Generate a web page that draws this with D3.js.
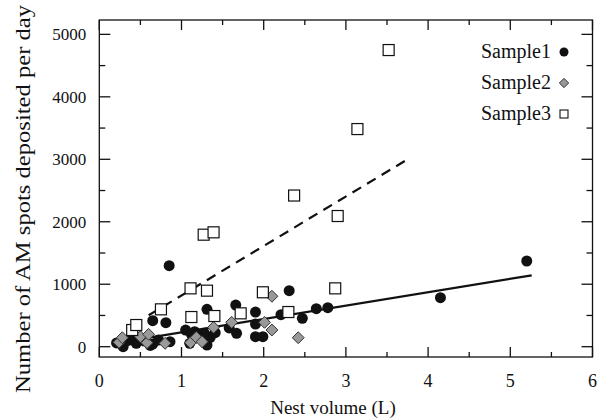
<!DOCTYPE html>
<html>
<head>
<meta charset="utf-8">
<script src="https://cdn.jsdelivr.net/npm/d3@7"></script>
<style>
  body { margin: 0; background: #fff; }
  text { font-family: "Liberation Serif", "Times New Roman", serif; fill: #111; }
</style>
</head>
<body>
<div class="chart"></div>
<script>
    /* data */
    const sample1 = [[0.21,60],[0.29,0],[0.35,100],[0.41,107],[0.45,54],[0.55,90],[0.62,20],[0.65,43],
        [0.65,416],[0.72,107],[0.81,385],[0.85,1297],[0.86,80],[1.05,267],[1.10,54],[1.12,200],
        [1.16,240],[1.22,180],[1.28,214],[1.31,27],[1.31,598],[1.35,150],[1.41,224],[1.58,300],
        [1.66,667],[1.67,214],[1.90,555],[1.90,363],[1.90,160],[1.99,160],[2.21,513],[2.31,896],
        [2.47,454],[2.64,608],[2.78,624],[4.15,784],[5.20,1372]];
    const sample2 = [[0.24,70],[0.28,144],[0.50,160],[0.58,64],[0.60,198],[0.80,54],[1.11,64],
        [1.18,150],[1.25,80],[1.39,310],[1.61,390],[2.01,390],[2.10,807],[2.10,267],[2.42,144]];
    const sample3 = [[0.40,267],[0.45,347],[0.75,598],[1.11,934],[1.12,475],[1.27,1793],[1.31,897],
        [1.39,1831],[1.40,491],[1.72,534],[1.99,871],[2.30,555],[2.37,2420],[2.87,934],[2.90,2092],
        [3.14,3484],[3.52,4749]];
    const fit1 = [[0.2,58],[5.26,1143]];   // solid
    const fit3 = [[0.6,503],[3.73,2983]];  // dashed
    const xTicks = [0,1,2,3,4,5,6];
    const yTicks = [0,1000,2000,3000,4000,5000];
    const legendNames = ["Sample1","Sample2","Sample3"];

    const width = 599, height = 420;
    const m = {left: 99.3, right: 592.5, top: 20, bottom: 357};

    const svg = d3.select(".chart").append("svg")
    .attr("width", width)
    .attr("height", height);

    const x = d3.scaleLinear().domain([0,6]).range([m.left,m.right]);
    const y = d3.scaleLinear().domain([-165,5230]).range([m.bottom,m.top]);

    /* frame + inward ticks */
    svg.append("rect")
    .attr("x",m.left).attr("y",m.top)
    .attr("width",m.right-m.left).attr("height",m.bottom-m.top)
    .attr("fill","none").attr("stroke","#111").attr("stroke-width",1.3);

    const xMinor = d3.range(0,6.01,0.5), yMinor = d3.range(0,5001,500);
    const tk = svg.append("g").attr("stroke","#111").attr("stroke-width",1.3);
    xMinor.forEach(v=>{
        const len = (v%1===0) ? 10 : 5;
        tk.append("line").attr("x1",x(v)).attr("x2",x(v)).attr("y1",m.bottom).attr("y2",m.bottom-len);
        tk.append("line").attr("x1",x(v)).attr("x2",x(v)).attr("y1",m.top).attr("y2",m.top+len);
    });
    yMinor.forEach(v=>{
        const len = (v%1000===0) ? 11 : 6;
        tk.append("line").attr("y1",y(v)).attr("y2",y(v)).attr("x1",m.left).attr("x2",m.left+len);
        tk.append("line").attr("y1",y(v)).attr("y2",y(v)).attr("x1",m.right).attr("x2",m.right-len);
    });

    svg.selectAll(".xl").data(xTicks).enter().append("text")
    .attr("x",d=>x(d)).attr("y",m.bottom+30)
    .attr("text-anchor","middle").attr("font-size",18)
    .text(d=>d);

    svg.selectAll(".yl").data(yTicks).enter().append("text")
    .attr("x",m.left-13).attr("y",d=>y(d)+6)
    .attr("text-anchor","end").attr("font-size",17)
    .text(d=>d);

    svg.append("text")
    .attr("x",333).attr("y",414)
    .attr("text-anchor","middle").attr("font-size",19)
    .text("Nest volume (L)");

    svg.append("text")
    .attr("transform","translate(30,199) rotate(-90)")
    .attr("text-anchor","middle").attr("font-size",21)
    .attr("textLength",388).attr("lengthAdjust","spacingAndGlyphs")
    .text("Number of AM spots deposited per day");

    /* fit lines */
    const line = d3.line().x(d=>x(d[0])).y(d=>y(d[1]));
    svg.append("path").datum(fit1).attr("d",line)
    .attr("fill","none").attr("stroke","#111").attr("stroke-width",2.2);
    svg.append("path").datum(fit3).attr("d",line)
    .attr("fill","none").attr("stroke","#111").attr("stroke-width",2.2)
    .attr("stroke-dasharray","10,7");

    /* points */
    svg.append("g").selectAll("circle").data(sample1).enter().append("circle")
    .attr("cx",d=>x(d[0])).attr("cy",d=>y(d[1])).attr("r",5.5)
    .attr("fill","#111");

    const diamond = d3.symbol().type(d3.symbolDiamond2).size(90);
    svg.append("g").selectAll("path").data(sample2).enter().append("path")
    .attr("d",diamond)
    .attr("transform",d=>`translate(${x(d[0])},${y(d[1])})`)
    .attr("fill","#999").attr("stroke","#333").attr("stroke-width",1);

    svg.append("g").selectAll("rect").data(sample3).enter().append("rect")
    .attr("x",d=>x(d[0])-5.5).attr("y",d=>y(d[1])-5.5)
    .attr("width",11).attr("height",11)
    .attr("fill","#fff").attr("stroke","#111").attr("stroke-width",1.2);

    /* legend */
    const lg = svg.append("g");
    legendNames.forEach((name,i)=>{
        const ly = 52 + i*31;
        lg.append("text").attr("x",551).attr("y",ly+6)
        .attr("text-anchor","end").attr("font-size",20).text(name);
        if(i===0){
            lg.append("circle").attr("cx",564).attr("cy",ly).attr("r",4.5).attr("fill","#111");
        } else if(i===1){
            lg.append("path").attr("d",d3.symbol().type(d3.symbolDiamond2).size(55))
            .attr("transform",`translate(564,${ly})`)
            .attr("fill","#999").attr("stroke","#333");
        } else {
            lg.append("rect").attr("x",560).attr("y",ly-4).attr("width",8).attr("height",8)
            .attr("fill","#fff").attr("stroke","#111").attr("stroke-width",1.1);
        }
    });
</script>
</body>
</html>
